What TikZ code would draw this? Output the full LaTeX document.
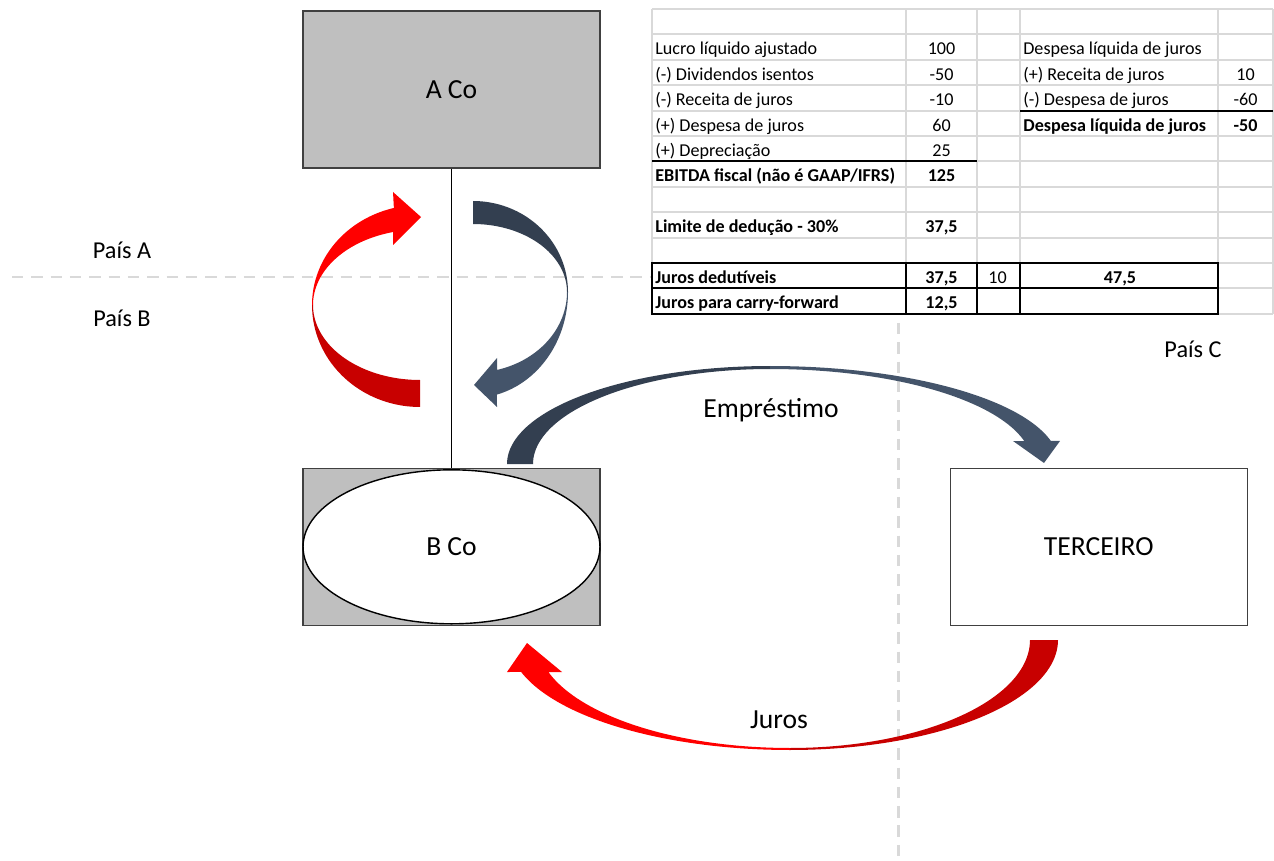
\documentclass[tikz,border=0pt]{standalone}
\usepackage{fontspec}
\setmainfont{Carlito}
\usetikzlibrary{positioning,shapes.geometric}
\definecolor{boxGray}{HTML}{BFBFBF}
\definecolor{lineGray}{HTML}{D9D9D9}
\definecolor{flowRed}{HTML}{FF0000}
\definecolor{flowDarkRed}{HTML}{C80000}
\definecolor{flowSlate}{HTML}{333F50}
\definecolor{flowBlue}{HTML}{44546A}

\begin{document}
\begin{tikzpicture}[x=0.02cm,y=-0.02cm,
    entity/.style={draw=black!75,line width=0.8pt,minimum width=5.94cm,minimum height=3.14cm,inner sep=0pt,font=\fontsize{15.7}{18}\selectfont},
    country/.style={font=\fontsize{13.8}{16}\selectfont,inner sep=0pt},
    flowlabel/.style={font=\fontsize{15.7}{18}\selectfont,inner sep=0pt},
    cell/.style={font=\fontsize{10.3}{12}\selectfont,inner sep=0pt},
    bcell/.style={font=\fontsize{10.3}{12}\selectfont\bfseries,inner sep=0pt},
    gridline/.style={draw=lineGray,line width=1.1pt},
    rule/.style={draw=black,line width=1.1pt},
    border/.style={draw=lineGray,line width=1.7pt,dash pattern=on 6.5pt off 4.5pt}
]
  \useasboundingbox (0,0) rectangle (1274,861);

  % Country borders
  \draw[border] (12,277) -- (652,277);
  \draw[border] (898,323) -- (898,861);
  \node[country] (paisA) at (122,250) {País A};
  \node[country] (paisB) at (122,318) {País B};
  \node[country] (paisC) at (1193,349) {País C};

  % Companies
  \node[entity,fill=boxGray] (aco) at (451.5,89.5) {A Co};
  \node[entity,fill=boxGray,below=5.98cm of aco] (bco) {};
  \node[ellipse,draw=black,line width=0.8pt,fill=white,inner sep=0pt,minimum width=5.94cm,minimum height=3.08cm,font=\fontsize{15.7}{18}\selectfont] (bcoring) at (bco) {B Co};
  \node[entity,fill=white,right=6.98cm of bco] (terceiro) {TERCEIRO};
  \draw[black,line width=0.6pt] (aco.south) -- (bco.north);

  % Dividends up / interest down between A Co and B Co
  \fill[flowDarkRed] plot[domain=180:90,samples=40] ({420+108*cos(\x)},{305+102*sin(\x)})
    -- (420,380) -- plot[domain=90:180,samples=40] ({420+107*cos(\x)},{305+75*sin(\x)}) -- cycle;
  \fill[flowRed] plot[domain=180:256,samples=40] ({420+108*cos(\x)},{305+100*sin(\x)})
    -- (393,192) -- (421,217) -- (393,245) -- (393,232)
    -- plot[domain=255.4:180,samples=40] ({420+107*cos(\x)},{305+75.4*sin(\x)}) -- cycle;
  \fill[flowSlate] plot[domain=270:360,samples=40] ({473+95*cos(\x)},{292+91*sin(\x)})
    -- plot[domain=360:270,samples=40] ({473+94*cos(\x)},{292+68*sin(\x)}) -- cycle;
  \fill[flowBlue] plot[domain=0:75.4,samples=40] ({473+95*cos(\x)},{292+106*sin(\x)})
    -- (497,407) -- (474,385) -- (497,358) -- (497,370)
    -- plot[domain=75.4:0,samples=40] ({473+94*cos(\x)},{292+80.6*sin(\x)}) -- cycle;

  % Loan B Co -> TERCEIRO
  \fill[flowSlate] plot[domain=180:270,samples=50] ({770+263*cos(\x)},{464+98*sin(\x)})
    -- plot[domain=270:180,samples=50] ({770+237*cos(\x)},{464+95*sin(\x)}) -- cycle;
  \fill[flowBlue] plot[domain=270:346.4,samples=50] ({770+289*cos(\x)},{464+98*sin(\x)})
    -- (1060,441) -- (1044,463) -- (1013,441) -- (1024,441)
    -- plot[domain=346:270,samples=50] ({770+262*cos(\x)},{464+95*sin(\x)}) -- cycle;
  \node[flowlabel] (emprestimo) at (771,410) {Empréstimo};

  % Interest TERCEIRO -> B Co
  \fill[flowDarkRed] plot[domain=0:90,samples=50] ({790+268*cos(\x)},{640+110*sin(\x)})
    -- plot[domain=90:0,samples=50] ({790+240*cos(\x)},{640+108*sin(\x)}) -- cycle;
  \fill[flowRed] plot[domain=90:163.1,samples=50] ({790+281*cos(\x)},{640+110*sin(\x)})
    -- (507,672) -- (527,643) -- (562,672) -- (548,672)
    -- plot[domain=162.8:90,samples=50] ({790+253*cos(\x)},{640+108*sin(\x)}) -- cycle;
  \node[flowlabel] (juros) at (779,720) {Juros};

  % Spreadsheet grid
  \foreach \r in {0,...,12}
    \draw[gridline] (652,{9+25.4*\r}) -- (1273,{9+25.4*\r});
  \foreach \c in {652,906,977,1020,1218,1273}
    \draw[gridline] (\c,9) -- (\c,313.8);
  \draw[rule] (652,161.4) -- (977,161.4);
  \draw[rule] (1020,110.6) -- (1273,110.6);
  \draw[rule] (652,263) rectangle (1218,313.8);
  \draw[rule] (652,288.4) -- (1218,288.4);
  \foreach \c in {906,977,1020}
    \draw[rule] (\c,263) -- (\c,313.8);

  % EBITDA calculation
  \node[cell,anchor=base west] (lucro) at (655,55) {Lucro líquido ajustado};
  \node[cell,anchor=base west] (divid) at (655,80.4) {(-) Dividendos isentos};
  \node[cell,anchor=base west] (receita) at (655,105.8) {(-) Receita de juros};
  \node[cell,anchor=base west] (despesa) at (655,131.2) {(+) Despesa de juros};
  \node[cell,anchor=base west] (deprec) at (655,156.6) {(+) Depreciação};
  \node[bcell,anchor=base west] (ebitda) at (655,182) {EBITDA fiscal (não é GAAP/IFRS)};
  \node[bcell,anchor=base west] (limite) at (655,232.8) {Limite de dedução - 30\%};
  \node[bcell,anchor=base west] (dedut) at (655,283.6) {Juros dedutíveis};
  \node[bcell,anchor=base west] (carry) at (655,309) {Juros para carry-forward};

  \node[cell,anchor=base] (lucroV) at (941.5,55) {100};
  \node[cell,anchor=base] (dividV) at (941.5,80.4) {-50};
  \node[cell,anchor=base] (receitaV) at (941.5,105.8) {-10};
  \node[cell,anchor=base] (despesaV) at (941.5,131.2) {60};
  \node[cell,anchor=base] (deprecV) at (941.5,156.6) {25};
  \node[bcell,anchor=base] (ebitdaV) at (941.5,182) {125};
  \node[bcell,anchor=base] (limiteV) at (941.5,232.8) {37,5};
  \node[bcell,anchor=base] (dedutV) at (941.5,283.6) {37,5};
  \node[bcell,anchor=base] (carryV) at (941.5,309) {12,5};
  \node[cell,anchor=base] (dedutC) at (997.5,283.6) {10};
  \node[bcell,anchor=base] (dedutT) at (1120,283.6) {47,5};

  % Net interest expense
  \node[cell,anchor=base west] (netHead) at (1023,55) {Despesa líquida de juros};
  \node[cell,anchor=base west] (netRec) at (1023,80.4) {(+) Receita de juros};
  \node[cell,anchor=base west] (netDesp) at (1023,105.8) {(-) Despesa de juros};
  \node[bcell,anchor=base west] (netTot) at (1023,131.2) {Despesa líquida de juros};
  \node[cell,anchor=base] (netRecV) at (1245.5,80.4) {10};
  \node[cell,anchor=base] (netDespV) at (1245.5,105.8) {-60};
  \node[bcell,anchor=base] (netTotV) at (1245.5,131.2) {-50};
\end{tikzpicture}
\end{document}
